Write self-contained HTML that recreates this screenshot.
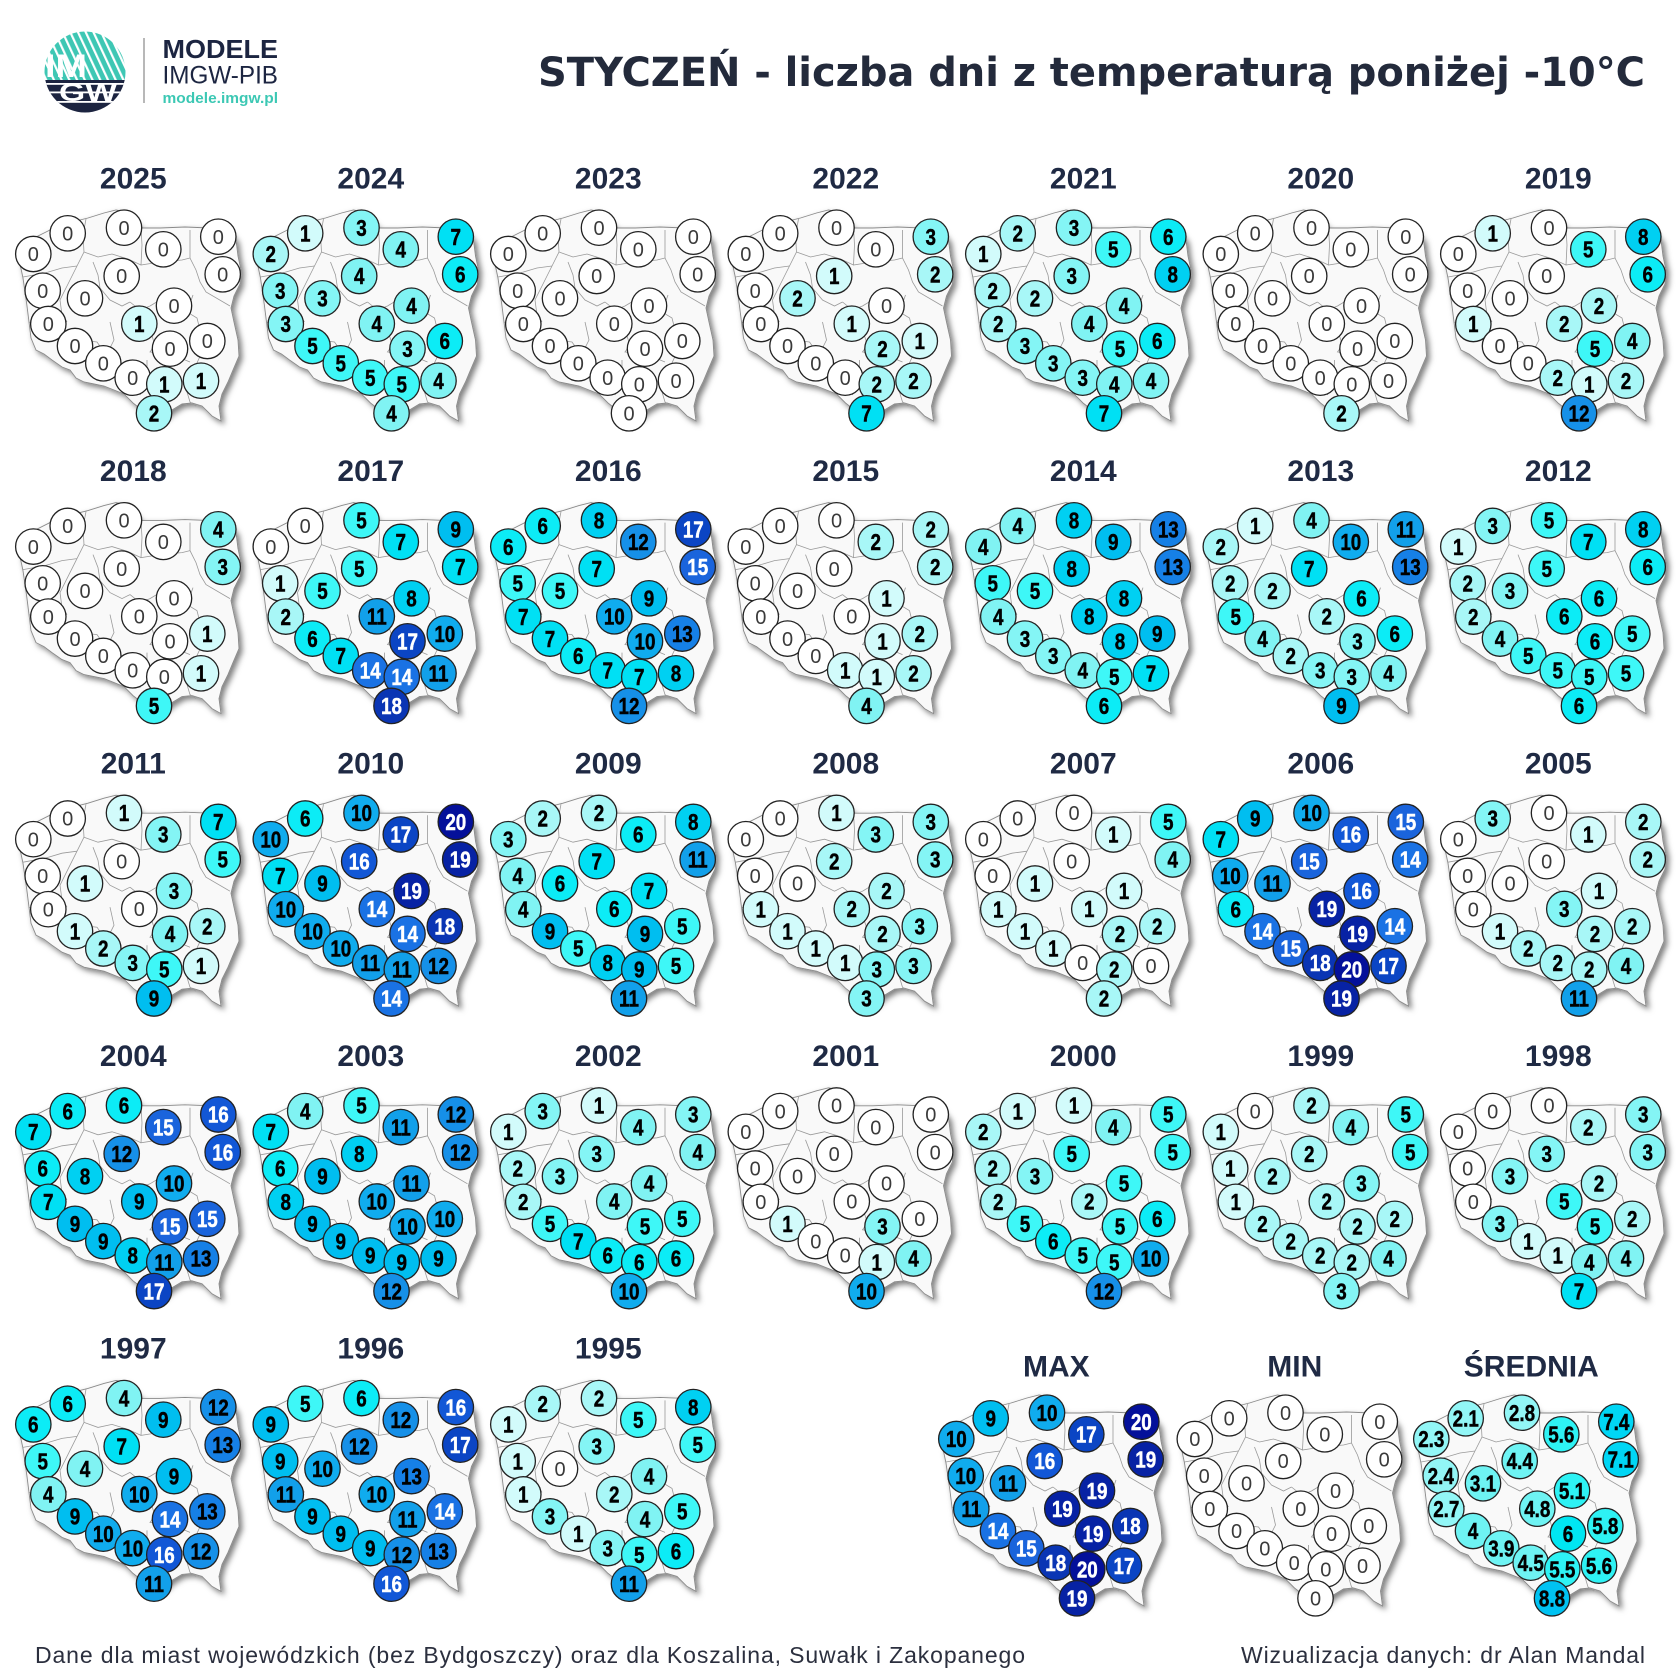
<!DOCTYPE html>
<html><head><meta charset="utf-8"><style>
html,body{margin:0;padding:0;background:#fff}
svg{display:block}
circle{fill:#fff;stroke:#222;stroke-width:1.3}
.mp g text{font-family:"Liberation Sans",Arial,sans-serif;font-weight:bold;font-size:23px;text-anchor:middle;transform:translate(0px,8.2px) scaleX(.82);fill:#000;stroke:#000;stroke-width:.45px}
.mp .v0 text{font-weight:normal;font-size:20px;fill:#3a3a3a;stroke:none;transform:translate(0px,7.2px)}
.mp .v14 text,.mp .v15 text,.mp .v16 text,.mp .v17 text,.mp .v18 text,.mp .v19 text,.mp .v20 text{fill:#fff;stroke:#fff}
.yr{font-family:"Liberation Sans",Arial,sans-serif;font-weight:bold;font-size:30px;text-anchor:middle;fill:#1f2a44}
.a{transform:translate(67.7px,233.3px)}.b{transform:translate(124px,227.7px)}.c{transform:translate(218.3px,236.7px)}.d{transform:translate(33.3px,254px)}.e{transform:translate(163.3px,249.3px)}.f{transform:translate(222.7px,274.3px)}.g{transform:translate(121.7px,276px)}.h{transform:translate(42.7px,290.7px)}.i{transform:translate(85px,298.3px)}.j{transform:translate(174px,305.7px)}.k{transform:translate(48.3px,324px)}.l{transform:translate(139.3px,323.7px)}.m{transform:translate(207.3px,341px)}.n{transform:translate(75px,346px)}.o{transform:translate(170px,348.7px)}.p{transform:translate(103.3px,363.3px)}.q{transform:translate(132.7px,377.7px)}.r{transform:translate(164.3px,384.3px)}.s{transform:translate(201px,380.7px)}.t{transform:translate(154px,413.3px)}
.v1 circle{fill:#d2fbfb}.v2 circle{fill:#a8f7f7}.v3 circle{fill:#84f5f5}.v4 circle{fill:#80f3f3}.v5 circle{fill:#3ef7f7}.v6 circle{fill:#0cecf6}.v7 circle{fill:#00e0f4}.v8 circle{fill:#00d0f2}.v9 circle{fill:#00bef0}.v10 circle{fill:#10acee}.v11 circle{fill:#12a0ea}.v12 circle{fill:#1690e8}.v13 circle{fill:#1680e6}.v14 circle{fill:#1a72e4}.v15 circle{fill:#1a64dc}.v16 circle{fill:#1257d6}.v17 circle{fill:#0b45c4}.v18 circle{fill:#0a35b4}.v19 circle{fill:#0722a4}.v20 circle{fill:#04109a}
.s2 circle{fill:#92f6f6}.s3 circle{fill:#6ef3f3}.s5 circle{fill:#2ef2f4}.s6 circle{fill:#00e6f2}.s7 circle{fill:#00d6f5}.s8 circle{fill:#00c2f2}
.pl{fill:#f9f9f9;stroke:#8a8a8a;stroke-width:.9}
.bd{fill:none;stroke:#9a9a9a;stroke-width:.8}
</style></head><body>
<svg width="1680" height="1680" viewBox="0 0 1680 1680" xmlns="http://www.w3.org/2000/svg">
<defs>
<filter id="sh" x="-10%" y="-10%" width="130%" height="130%"><feDropShadow dx="3" dy="3" stdDeviation="3" flood-color="#000" flood-opacity=".5"/></filter>
<g id="pl">
<polygon class="pl" filter="url(#sh)" points="20,248 34,238 52,229 72,222 88,218 104,213 116,210 126,212 133,219 141,228 160,228 185,227 210,228 228,230 236,240 238,256 241,270 240,284 234,296 231,308 234,322 238,340 239,356 233,370 228,382 222,394 219,406 221,421 212,416 202,406 192,403 182,404 172,410 162,419 150,421 142,410 133,403 124,394 114,390 104,386 94,384 84,382 76,378 70,370 62,367 52,360 44,354 36,350 31,338 29,322 27,306 25,292 23,278 20,264"/>
<polyline class="bd" points="86,219 83,235 84,252 77,266"/>
<polyline class="bd" points="23,277 45,273 62,268 77,266"/>
<polyline class="bd" points="84,252 98,257 112,254 128,259 141,265"/>
<polyline class="bd" points="141,228 142,245 141,265 160,262 182,260 190,258"/>
<polyline class="bd" points="190,230 190,258 196,270 200,282 206,292 230,306"/>
<polyline class="bd" points="93,262 98,275 100,288 110,300 122,306 130,302"/>
<polyline class="bd" points="77,266 70,280 60,300 62,315 67,322"/>
<polyline class="bd" points="29,322 45,328 58,334 64,340"/>
<polyline class="bd" points="64,336 80,340 97,342 104,352"/>
<polyline class="bd" points="130,302 140,310 150,306 160,300"/>
<polyline class="bd" points="110,322 114,340 108,352"/>
<polyline class="bd" points="150,330 155,345 150,352 173,355 190,362"/>
<polyline class="bd" points="193,295 187,312 197,318 200,330 203,350 196,365 190,380"/>
<polyline class="bd" points="94,355 110,362 118,372 116,385"/>
<polyline class="bd" points="147,360 147,375 140,395"/>
<polyline class="bd" points="184,382 190,402 196,406"/>
</g>
<clipPath id="lc"><circle cx="85" cy="72" r="40.5"/></clipPath>
<pattern id="st" width="7" height="7" patternUnits="userSpaceOnUse" patternTransform="rotate(-25)"><rect width="7" height="7" fill="#3ec7b4"/><rect width="2.2" height="7" fill="#fff"/></pattern>
</defs>

<!-- logo -->
<g clip-path="url(#lc)">
<rect x="44" y="31" width="82" height="50" fill="url(#st)"/>
<rect x="44" y="80" width="82" height="34" fill="#1c2440"/>
<rect x="44" y="83" width="82" height="1.8" fill="#fff"/>
<rect x="44" y="91.5" width="82" height="1.8" fill="#fff"/>
<rect x="44" y="101" width="82" height="1.8" fill="#fff"/>
</g>
<text x="45" y="77" font-family="Liberation Sans, Arial, sans-serif" font-weight="bold" font-size="32" fill="#fff" textLength="42" lengthAdjust="spacingAndGlyphs">IM</text>
<text x="59" y="101" font-family="Liberation Sans, Arial, sans-serif" font-weight="bold" font-size="25" fill="#fff" textLength="58" lengthAdjust="spacingAndGlyphs">GW</text>
<rect x="143.3" y="38" width="1.4" height="65" fill="#9a9a9a"/>
<text x="162.5" y="58" font-family="Liberation Sans, Arial, sans-serif" font-weight="bold" font-size="26" fill="#1c2541" textLength="115.5" lengthAdjust="spacingAndGlyphs">MODELE</text>
<text x="162.5" y="83.3" font-family="Liberation Sans, Arial, sans-serif" font-size="25" fill="#1c2541" textLength="115.5" lengthAdjust="spacingAndGlyphs">IMGW-PIB</text>
<text x="162.5" y="103" font-family="Liberation Sans, Arial, sans-serif" font-weight="bold" font-size="14.5" fill="#3cc8b4" textLength="115.5" lengthAdjust="spacingAndGlyphs">modele.imgw.pl</text>

<text x="538" y="86" font-family="DejaVu Sans, sans-serif" font-weight="bold" font-size="40" fill="#232a3b" textLength="1107">STYCZEŃ - liczba dni z temperaturą poniżej -10°C</text>

<!-- 2025 -->
<g class="mp" transform="translate(0 0)"><use href="#pl"/><text class="yr" x="133.3" y="188.3">2025</text>
<g class="a v0"><circle r="17.7"/><text>0</text></g><g class="b v0"><circle r="17.7"/><text>0</text></g><g class="c v0"><circle r="17.7"/><text>0</text></g><g class="d v0"><circle r="17.7"/><text>0</text></g><g class="e v0"><circle r="17.7"/><text>0</text></g><g class="f v0"><circle r="17.7"/><text>0</text></g><g class="g v0"><circle r="17.7"/><text>0</text></g><g class="h v0"><circle r="17.7"/><text>0</text></g><g class="i v0"><circle r="17.7"/><text>0</text></g><g class="j v0"><circle r="17.7"/><text>0</text></g><g class="k v0"><circle r="17.7"/><text>0</text></g><g class="l v1"><circle r="17.7"/><text>1</text></g><g class="m v0"><circle r="17.7"/><text>0</text></g><g class="n v0"><circle r="17.7"/><text>0</text></g><g class="o v0"><circle r="17.7"/><text>0</text></g><g class="p v0"><circle r="17.7"/><text>0</text></g><g class="q v0"><circle r="17.7"/><text>0</text></g><g class="r v1"><circle r="17.7"/><text>1</text></g><g class="s v1"><circle r="17.7"/><text>1</text></g><g class="t v2"><circle r="17.7"/><text>2</text></g>
</g>
<!-- 2024 -->
<g class="mp" transform="translate(237.5 0)"><use href="#pl"/><text class="yr" x="133.3" y="188.3">2024</text>
<g class="a v1"><circle r="17.7"/><text>1</text></g><g class="b v3"><circle r="17.7"/><text>3</text></g><g class="c v7"><circle r="17.7"/><text>7</text></g><g class="d v2"><circle r="17.7"/><text>2</text></g><g class="e v4"><circle r="17.7"/><text>4</text></g><g class="f v6"><circle r="17.7"/><text>6</text></g><g class="g v4"><circle r="17.7"/><text>4</text></g><g class="h v3"><circle r="17.7"/><text>3</text></g><g class="i v3"><circle r="17.7"/><text>3</text></g><g class="j v4"><circle r="17.7"/><text>4</text></g><g class="k v3"><circle r="17.7"/><text>3</text></g><g class="l v4"><circle r="17.7"/><text>4</text></g><g class="m v6"><circle r="17.7"/><text>6</text></g><g class="n v5"><circle r="17.7"/><text>5</text></g><g class="o v3"><circle r="17.7"/><text>3</text></g><g class="p v5"><circle r="17.7"/><text>5</text></g><g class="q v5"><circle r="17.7"/><text>5</text></g><g class="r v5"><circle r="17.7"/><text>5</text></g><g class="s v4"><circle r="17.7"/><text>4</text></g><g class="t v4"><circle r="17.7"/><text>4</text></g>
</g>
<!-- 2023 -->
<g class="mp" transform="translate(475 0)"><use href="#pl"/><text class="yr" x="133.3" y="188.3">2023</text>
<g class="a v0"><circle r="17.7"/><text>0</text></g><g class="b v0"><circle r="17.7"/><text>0</text></g><g class="c v0"><circle r="17.7"/><text>0</text></g><g class="d v0"><circle r="17.7"/><text>0</text></g><g class="e v0"><circle r="17.7"/><text>0</text></g><g class="f v0"><circle r="17.7"/><text>0</text></g><g class="g v0"><circle r="17.7"/><text>0</text></g><g class="h v0"><circle r="17.7"/><text>0</text></g><g class="i v0"><circle r="17.7"/><text>0</text></g><g class="j v0"><circle r="17.7"/><text>0</text></g><g class="k v0"><circle r="17.7"/><text>0</text></g><g class="l v0"><circle r="17.7"/><text>0</text></g><g class="m v0"><circle r="17.7"/><text>0</text></g><g class="n v0"><circle r="17.7"/><text>0</text></g><g class="o v0"><circle r="17.7"/><text>0</text></g><g class="p v0"><circle r="17.7"/><text>0</text></g><g class="q v0"><circle r="17.7"/><text>0</text></g><g class="r v0"><circle r="17.7"/><text>0</text></g><g class="s v0"><circle r="17.7"/><text>0</text></g><g class="t v0"><circle r="17.7"/><text>0</text></g>
</g>
<!-- 2022 -->
<g class="mp" transform="translate(712.5 0)"><use href="#pl"/><text class="yr" x="133.3" y="188.3">2022</text>
<g class="a v0"><circle r="17.7"/><text>0</text></g><g class="b v0"><circle r="17.7"/><text>0</text></g><g class="c v3"><circle r="17.7"/><text>3</text></g><g class="d v0"><circle r="17.7"/><text>0</text></g><g class="e v0"><circle r="17.7"/><text>0</text></g><g class="f v2"><circle r="17.7"/><text>2</text></g><g class="g v1"><circle r="17.7"/><text>1</text></g><g class="h v0"><circle r="17.7"/><text>0</text></g><g class="i v2"><circle r="17.7"/><text>2</text></g><g class="j v0"><circle r="17.7"/><text>0</text></g><g class="k v0"><circle r="17.7"/><text>0</text></g><g class="l v1"><circle r="17.7"/><text>1</text></g><g class="m v1"><circle r="17.7"/><text>1</text></g><g class="n v0"><circle r="17.7"/><text>0</text></g><g class="o v2"><circle r="17.7"/><text>2</text></g><g class="p v0"><circle r="17.7"/><text>0</text></g><g class="q v0"><circle r="17.7"/><text>0</text></g><g class="r v2"><circle r="17.7"/><text>2</text></g><g class="s v2"><circle r="17.7"/><text>2</text></g><g class="t v7"><circle r="17.7"/><text>7</text></g>
</g>
<!-- 2021 -->
<g class="mp" transform="translate(950 0)"><use href="#pl"/><text class="yr" x="133.3" y="188.3">2021</text>
<g class="a v2"><circle r="17.7"/><text>2</text></g><g class="b v3"><circle r="17.7"/><text>3</text></g><g class="c v6"><circle r="17.7"/><text>6</text></g><g class="d v1"><circle r="17.7"/><text>1</text></g><g class="e v5"><circle r="17.7"/><text>5</text></g><g class="f v8"><circle r="17.7"/><text>8</text></g><g class="g v3"><circle r="17.7"/><text>3</text></g><g class="h v2"><circle r="17.7"/><text>2</text></g><g class="i v2"><circle r="17.7"/><text>2</text></g><g class="j v4"><circle r="17.7"/><text>4</text></g><g class="k v2"><circle r="17.7"/><text>2</text></g><g class="l v4"><circle r="17.7"/><text>4</text></g><g class="m v6"><circle r="17.7"/><text>6</text></g><g class="n v3"><circle r="17.7"/><text>3</text></g><g class="o v5"><circle r="17.7"/><text>5</text></g><g class="p v3"><circle r="17.7"/><text>3</text></g><g class="q v3"><circle r="17.7"/><text>3</text></g><g class="r v4"><circle r="17.7"/><text>4</text></g><g class="s v4"><circle r="17.7"/><text>4</text></g><g class="t v7"><circle r="17.7"/><text>7</text></g>
</g>
<!-- 2020 -->
<g class="mp" transform="translate(1187.5 0)"><use href="#pl"/><text class="yr" x="133.3" y="188.3">2020</text>
<g class="a v0"><circle r="17.7"/><text>0</text></g><g class="b v0"><circle r="17.7"/><text>0</text></g><g class="c v0"><circle r="17.7"/><text>0</text></g><g class="d v0"><circle r="17.7"/><text>0</text></g><g class="e v0"><circle r="17.7"/><text>0</text></g><g class="f v0"><circle r="17.7"/><text>0</text></g><g class="g v0"><circle r="17.7"/><text>0</text></g><g class="h v0"><circle r="17.7"/><text>0</text></g><g class="i v0"><circle r="17.7"/><text>0</text></g><g class="j v0"><circle r="17.7"/><text>0</text></g><g class="k v0"><circle r="17.7"/><text>0</text></g><g class="l v0"><circle r="17.7"/><text>0</text></g><g class="m v0"><circle r="17.7"/><text>0</text></g><g class="n v0"><circle r="17.7"/><text>0</text></g><g class="o v0"><circle r="17.7"/><text>0</text></g><g class="p v0"><circle r="17.7"/><text>0</text></g><g class="q v0"><circle r="17.7"/><text>0</text></g><g class="r v0"><circle r="17.7"/><text>0</text></g><g class="s v0"><circle r="17.7"/><text>0</text></g><g class="t v2"><circle r="17.7"/><text>2</text></g>
</g>
<!-- 2019 -->
<g class="mp" transform="translate(1425 0)"><use href="#pl"/><text class="yr" x="133.3" y="188.3">2019</text>
<g class="a v1"><circle r="17.7"/><text>1</text></g><g class="b v0"><circle r="17.7"/><text>0</text></g><g class="c v8"><circle r="17.7"/><text>8</text></g><g class="d v0"><circle r="17.7"/><text>0</text></g><g class="e v5"><circle r="17.7"/><text>5</text></g><g class="f v6"><circle r="17.7"/><text>6</text></g><g class="g v0"><circle r="17.7"/><text>0</text></g><g class="h v0"><circle r="17.7"/><text>0</text></g><g class="i v0"><circle r="17.7"/><text>0</text></g><g class="j v2"><circle r="17.7"/><text>2</text></g><g class="k v1"><circle r="17.7"/><text>1</text></g><g class="l v2"><circle r="17.7"/><text>2</text></g><g class="m v4"><circle r="17.7"/><text>4</text></g><g class="n v0"><circle r="17.7"/><text>0</text></g><g class="o v5"><circle r="17.7"/><text>5</text></g><g class="p v0"><circle r="17.7"/><text>0</text></g><g class="q v2"><circle r="17.7"/><text>2</text></g><g class="r v1"><circle r="17.7"/><text>1</text></g><g class="s v2"><circle r="17.7"/><text>2</text></g><g class="t v12"><circle r="17.7"/><text>12</text></g>
</g>

<!-- 2018 -->
<g class="mp" transform="translate(0 292.6)"><use href="#pl"/><text class="yr" x="133.3" y="188.3">2018</text>
<g class="a v0"><circle r="17.7"/><text>0</text></g><g class="b v0"><circle r="17.7"/><text>0</text></g><g class="c v4"><circle r="17.7"/><text>4</text></g><g class="d v0"><circle r="17.7"/><text>0</text></g><g class="e v0"><circle r="17.7"/><text>0</text></g><g class="f v3"><circle r="17.7"/><text>3</text></g><g class="g v0"><circle r="17.7"/><text>0</text></g><g class="h v0"><circle r="17.7"/><text>0</text></g><g class="i v0"><circle r="17.7"/><text>0</text></g><g class="j v0"><circle r="17.7"/><text>0</text></g><g class="k v0"><circle r="17.7"/><text>0</text></g><g class="l v0"><circle r="17.7"/><text>0</text></g><g class="m v1"><circle r="17.7"/><text>1</text></g><g class="n v0"><circle r="17.7"/><text>0</text></g><g class="o v0"><circle r="17.7"/><text>0</text></g><g class="p v0"><circle r="17.7"/><text>0</text></g><g class="q v0"><circle r="17.7"/><text>0</text></g><g class="r v0"><circle r="17.7"/><text>0</text></g><g class="s v1"><circle r="17.7"/><text>1</text></g><g class="t v5"><circle r="17.7"/><text>5</text></g>
</g>
<!-- 2017 -->
<g class="mp" transform="translate(237.5 292.6)"><use href="#pl"/><text class="yr" x="133.3" y="188.3">2017</text>
<g class="a v0"><circle r="17.7"/><text>0</text></g><g class="b v5"><circle r="17.7"/><text>5</text></g><g class="c v9"><circle r="17.7"/><text>9</text></g><g class="d v0"><circle r="17.7"/><text>0</text></g><g class="e v7"><circle r="17.7"/><text>7</text></g><g class="f v7"><circle r="17.7"/><text>7</text></g><g class="g v5"><circle r="17.7"/><text>5</text></g><g class="h v1"><circle r="17.7"/><text>1</text></g><g class="i v5"><circle r="17.7"/><text>5</text></g><g class="j v8"><circle r="17.7"/><text>8</text></g><g class="k v2"><circle r="17.7"/><text>2</text></g><g class="l v11"><circle r="17.7"/><text>11</text></g><g class="m v10"><circle r="17.7"/><text>10</text></g><g class="n v6"><circle r="17.7"/><text>6</text></g><g class="o v17"><circle r="17.7"/><text>17</text></g><g class="p v7"><circle r="17.7"/><text>7</text></g><g class="q v14"><circle r="17.7"/><text>14</text></g><g class="r v14"><circle r="17.7"/><text>14</text></g><g class="s v11"><circle r="17.7"/><text>11</text></g><g class="t v18"><circle r="17.7"/><text>18</text></g>
</g>
<!-- 2016 -->
<g class="mp" transform="translate(475 292.6)"><use href="#pl"/><text class="yr" x="133.3" y="188.3">2016</text>
<g class="a v6"><circle r="17.7"/><text>6</text></g><g class="b v8"><circle r="17.7"/><text>8</text></g><g class="c v17"><circle r="17.7"/><text>17</text></g><g class="d v6"><circle r="17.7"/><text>6</text></g><g class="e v12"><circle r="17.7"/><text>12</text></g><g class="f v15"><circle r="17.7"/><text>15</text></g><g class="g v7"><circle r="17.7"/><text>7</text></g><g class="h v5"><circle r="17.7"/><text>5</text></g><g class="i v5"><circle r="17.7"/><text>5</text></g><g class="j v9"><circle r="17.7"/><text>9</text></g><g class="k v7"><circle r="17.7"/><text>7</text></g><g class="l v10"><circle r="17.7"/><text>10</text></g><g class="m v13"><circle r="17.7"/><text>13</text></g><g class="n v7"><circle r="17.7"/><text>7</text></g><g class="o v10"><circle r="17.7"/><text>10</text></g><g class="p v6"><circle r="17.7"/><text>6</text></g><g class="q v7"><circle r="17.7"/><text>7</text></g><g class="r v7"><circle r="17.7"/><text>7</text></g><g class="s v8"><circle r="17.7"/><text>8</text></g><g class="t v12"><circle r="17.7"/><text>12</text></g>
</g>
<!-- 2015 -->
<g class="mp" transform="translate(712.5 292.6)"><use href="#pl"/><text class="yr" x="133.3" y="188.3">2015</text>
<g class="a v0"><circle r="17.7"/><text>0</text></g><g class="b v0"><circle r="17.7"/><text>0</text></g><g class="c v2"><circle r="17.7"/><text>2</text></g><g class="d v0"><circle r="17.7"/><text>0</text></g><g class="e v2"><circle r="17.7"/><text>2</text></g><g class="f v2"><circle r="17.7"/><text>2</text></g><g class="g v0"><circle r="17.7"/><text>0</text></g><g class="h v0"><circle r="17.7"/><text>0</text></g><g class="i v0"><circle r="17.7"/><text>0</text></g><g class="j v1"><circle r="17.7"/><text>1</text></g><g class="k v0"><circle r="17.7"/><text>0</text></g><g class="l v0"><circle r="17.7"/><text>0</text></g><g class="m v2"><circle r="17.7"/><text>2</text></g><g class="n v0"><circle r="17.7"/><text>0</text></g><g class="o v1"><circle r="17.7"/><text>1</text></g><g class="p v0"><circle r="17.7"/><text>0</text></g><g class="q v1"><circle r="17.7"/><text>1</text></g><g class="r v1"><circle r="17.7"/><text>1</text></g><g class="s v2"><circle r="17.7"/><text>2</text></g><g class="t v4"><circle r="17.7"/><text>4</text></g>
</g>
<!-- 2014 -->
<g class="mp" transform="translate(950 292.6)"><use href="#pl"/><text class="yr" x="133.3" y="188.3">2014</text>
<g class="a v4"><circle r="17.7"/><text>4</text></g><g class="b v8"><circle r="17.7"/><text>8</text></g><g class="c v13"><circle r="17.7"/><text>13</text></g><g class="d v4"><circle r="17.7"/><text>4</text></g><g class="e v9"><circle r="17.7"/><text>9</text></g><g class="f v13"><circle r="17.7"/><text>13</text></g><g class="g v8"><circle r="17.7"/><text>8</text></g><g class="h v5"><circle r="17.7"/><text>5</text></g><g class="i v5"><circle r="17.7"/><text>5</text></g><g class="j v8"><circle r="17.7"/><text>8</text></g><g class="k v4"><circle r="17.7"/><text>4</text></g><g class="l v8"><circle r="17.7"/><text>8</text></g><g class="m v9"><circle r="17.7"/><text>9</text></g><g class="n v3"><circle r="17.7"/><text>3</text></g><g class="o v8"><circle r="17.7"/><text>8</text></g><g class="p v3"><circle r="17.7"/><text>3</text></g><g class="q v4"><circle r="17.7"/><text>4</text></g><g class="r v5"><circle r="17.7"/><text>5</text></g><g class="s v7"><circle r="17.7"/><text>7</text></g><g class="t v6"><circle r="17.7"/><text>6</text></g>
</g>
<!-- 2013 -->
<g class="mp" transform="translate(1187.5 292.6)"><use href="#pl"/><text class="yr" x="133.3" y="188.3">2013</text>
<g class="a v1"><circle r="17.7"/><text>1</text></g><g class="b v4"><circle r="17.7"/><text>4</text></g><g class="c v11"><circle r="17.7"/><text>11</text></g><g class="d v2"><circle r="17.7"/><text>2</text></g><g class="e v10"><circle r="17.7"/><text>10</text></g><g class="f v13"><circle r="17.7"/><text>13</text></g><g class="g v7"><circle r="17.7"/><text>7</text></g><g class="h v2"><circle r="17.7"/><text>2</text></g><g class="i v2"><circle r="17.7"/><text>2</text></g><g class="j v6"><circle r="17.7"/><text>6</text></g><g class="k v5"><circle r="17.7"/><text>5</text></g><g class="l v2"><circle r="17.7"/><text>2</text></g><g class="m v6"><circle r="17.7"/><text>6</text></g><g class="n v4"><circle r="17.7"/><text>4</text></g><g class="o v3"><circle r="17.7"/><text>3</text></g><g class="p v2"><circle r="17.7"/><text>2</text></g><g class="q v3"><circle r="17.7"/><text>3</text></g><g class="r v3"><circle r="17.7"/><text>3</text></g><g class="s v4"><circle r="17.7"/><text>4</text></g><g class="t v9"><circle r="17.7"/><text>9</text></g>
</g>
<!-- 2012 -->
<g class="mp" transform="translate(1425 292.6)"><use href="#pl"/><text class="yr" x="133.3" y="188.3">2012</text>
<g class="a v3"><circle r="17.7"/><text>3</text></g><g class="b v5"><circle r="17.7"/><text>5</text></g><g class="c v8"><circle r="17.7"/><text>8</text></g><g class="d v1"><circle r="17.7"/><text>1</text></g><g class="e v7"><circle r="17.7"/><text>7</text></g><g class="f v6"><circle r="17.7"/><text>6</text></g><g class="g v5"><circle r="17.7"/><text>5</text></g><g class="h v2"><circle r="17.7"/><text>2</text></g><g class="i v3"><circle r="17.7"/><text>3</text></g><g class="j v6"><circle r="17.7"/><text>6</text></g><g class="k v2"><circle r="17.7"/><text>2</text></g><g class="l v6"><circle r="17.7"/><text>6</text></g><g class="m v5"><circle r="17.7"/><text>5</text></g><g class="n v4"><circle r="17.7"/><text>4</text></g><g class="o v6"><circle r="17.7"/><text>6</text></g><g class="p v5"><circle r="17.7"/><text>5</text></g><g class="q v5"><circle r="17.7"/><text>5</text></g><g class="r v5"><circle r="17.7"/><text>5</text></g><g class="s v5"><circle r="17.7"/><text>5</text></g><g class="t v6"><circle r="17.7"/><text>6</text></g>
</g>

<!-- 2011 -->
<g class="mp" transform="translate(0 585.2)"><use href="#pl"/><text class="yr" x="133.3" y="188.3">2011</text>
<g class="a v0"><circle r="17.7"/><text>0</text></g><g class="b v1"><circle r="17.7"/><text>1</text></g><g class="c v7"><circle r="17.7"/><text>7</text></g><g class="d v0"><circle r="17.7"/><text>0</text></g><g class="e v3"><circle r="17.7"/><text>3</text></g><g class="f v5"><circle r="17.7"/><text>5</text></g><g class="g v0"><circle r="17.7"/><text>0</text></g><g class="h v0"><circle r="17.7"/><text>0</text></g><g class="i v1"><circle r="17.7"/><text>1</text></g><g class="j v3"><circle r="17.7"/><text>3</text></g><g class="k v0"><circle r="17.7"/><text>0</text></g><g class="l v0"><circle r="17.7"/><text>0</text></g><g class="m v2"><circle r="17.7"/><text>2</text></g><g class="n v1"><circle r="17.7"/><text>1</text></g><g class="o v4"><circle r="17.7"/><text>4</text></g><g class="p v2"><circle r="17.7"/><text>2</text></g><g class="q v3"><circle r="17.7"/><text>3</text></g><g class="r v5"><circle r="17.7"/><text>5</text></g><g class="s v1"><circle r="17.7"/><text>1</text></g><g class="t v9"><circle r="17.7"/><text>9</text></g>
</g>
<!-- 2010 -->
<g class="mp" transform="translate(237.5 585.2)"><use href="#pl"/><text class="yr" x="133.3" y="188.3">2010</text>
<g class="a v6"><circle r="17.7"/><text>6</text></g><g class="b v10"><circle r="17.7"/><text>10</text></g><g class="c v20"><circle r="17.7"/><text>20</text></g><g class="d v10"><circle r="17.7"/><text>10</text></g><g class="e v17"><circle r="17.7"/><text>17</text></g><g class="f v19"><circle r="17.7"/><text>19</text></g><g class="g v16"><circle r="17.7"/><text>16</text></g><g class="h v7"><circle r="17.7"/><text>7</text></g><g class="i v9"><circle r="17.7"/><text>9</text></g><g class="j v19"><circle r="17.7"/><text>19</text></g><g class="k v10"><circle r="17.7"/><text>10</text></g><g class="l v14"><circle r="17.7"/><text>14</text></g><g class="m v18"><circle r="17.7"/><text>18</text></g><g class="n v10"><circle r="17.7"/><text>10</text></g><g class="o v14"><circle r="17.7"/><text>14</text></g><g class="p v10"><circle r="17.7"/><text>10</text></g><g class="q v11"><circle r="17.7"/><text>11</text></g><g class="r v11"><circle r="17.7"/><text>11</text></g><g class="s v12"><circle r="17.7"/><text>12</text></g><g class="t v14"><circle r="17.7"/><text>14</text></g>
</g>
<!-- 2009 -->
<g class="mp" transform="translate(475 585.2)"><use href="#pl"/><text class="yr" x="133.3" y="188.3">2009</text>
<g class="a v2"><circle r="17.7"/><text>2</text></g><g class="b v2"><circle r="17.7"/><text>2</text></g><g class="c v8"><circle r="17.7"/><text>8</text></g><g class="d v3"><circle r="17.7"/><text>3</text></g><g class="e v6"><circle r="17.7"/><text>6</text></g><g class="f v11"><circle r="17.7"/><text>11</text></g><g class="g v7"><circle r="17.7"/><text>7</text></g><g class="h v4"><circle r="17.7"/><text>4</text></g><g class="i v6"><circle r="17.7"/><text>6</text></g><g class="j v7"><circle r="17.7"/><text>7</text></g><g class="k v4"><circle r="17.7"/><text>4</text></g><g class="l v6"><circle r="17.7"/><text>6</text></g><g class="m v5"><circle r="17.7"/><text>5</text></g><g class="n v9"><circle r="17.7"/><text>9</text></g><g class="o v9"><circle r="17.7"/><text>9</text></g><g class="p v5"><circle r="17.7"/><text>5</text></g><g class="q v8"><circle r="17.7"/><text>8</text></g><g class="r v9"><circle r="17.7"/><text>9</text></g><g class="s v5"><circle r="17.7"/><text>5</text></g><g class="t v11"><circle r="17.7"/><text>11</text></g>
</g>
<!-- 2008 -->
<g class="mp" transform="translate(712.5 585.2)"><use href="#pl"/><text class="yr" x="133.3" y="188.3">2008</text>
<g class="a v0"><circle r="17.7"/><text>0</text></g><g class="b v1"><circle r="17.7"/><text>1</text></g><g class="c v3"><circle r="17.7"/><text>3</text></g><g class="d v0"><circle r="17.7"/><text>0</text></g><g class="e v3"><circle r="17.7"/><text>3</text></g><g class="f v3"><circle r="17.7"/><text>3</text></g><g class="g v2"><circle r="17.7"/><text>2</text></g><g class="h v0"><circle r="17.7"/><text>0</text></g><g class="i v0"><circle r="17.7"/><text>0</text></g><g class="j v2"><circle r="17.7"/><text>2</text></g><g class="k v1"><circle r="17.7"/><text>1</text></g><g class="l v2"><circle r="17.7"/><text>2</text></g><g class="m v3"><circle r="17.7"/><text>3</text></g><g class="n v1"><circle r="17.7"/><text>1</text></g><g class="o v2"><circle r="17.7"/><text>2</text></g><g class="p v1"><circle r="17.7"/><text>1</text></g><g class="q v1"><circle r="17.7"/><text>1</text></g><g class="r v3"><circle r="17.7"/><text>3</text></g><g class="s v3"><circle r="17.7"/><text>3</text></g><g class="t v3"><circle r="17.7"/><text>3</text></g>
</g>
<!-- 2007 -->
<g class="mp" transform="translate(950 585.2)"><use href="#pl"/><text class="yr" x="133.3" y="188.3">2007</text>
<g class="a v0"><circle r="17.7"/><text>0</text></g><g class="b v0"><circle r="17.7"/><text>0</text></g><g class="c v5"><circle r="17.7"/><text>5</text></g><g class="d v0"><circle r="17.7"/><text>0</text></g><g class="e v1"><circle r="17.7"/><text>1</text></g><g class="f v4"><circle r="17.7"/><text>4</text></g><g class="g v0"><circle r="17.7"/><text>0</text></g><g class="h v0"><circle r="17.7"/><text>0</text></g><g class="i v1"><circle r="17.7"/><text>1</text></g><g class="j v1"><circle r="17.7"/><text>1</text></g><g class="k v1"><circle r="17.7"/><text>1</text></g><g class="l v1"><circle r="17.7"/><text>1</text></g><g class="m v2"><circle r="17.7"/><text>2</text></g><g class="n v1"><circle r="17.7"/><text>1</text></g><g class="o v2"><circle r="17.7"/><text>2</text></g><g class="p v1"><circle r="17.7"/><text>1</text></g><g class="q v0"><circle r="17.7"/><text>0</text></g><g class="r v2"><circle r="17.7"/><text>2</text></g><g class="s v0"><circle r="17.7"/><text>0</text></g><g class="t v2"><circle r="17.7"/><text>2</text></g>
</g>
<!-- 2006 -->
<g class="mp" transform="translate(1187.5 585.2)"><use href="#pl"/><text class="yr" x="133.3" y="188.3">2006</text>
<g class="a v9"><circle r="17.7"/><text>9</text></g><g class="b v10"><circle r="17.7"/><text>10</text></g><g class="c v15"><circle r="17.7"/><text>15</text></g><g class="d v7"><circle r="17.7"/><text>7</text></g><g class="e v16"><circle r="17.7"/><text>16</text></g><g class="f v14"><circle r="17.7"/><text>14</text></g><g class="g v15"><circle r="17.7"/><text>15</text></g><g class="h v10"><circle r="17.7"/><text>10</text></g><g class="i v11"><circle r="17.7"/><text>11</text></g><g class="j v16"><circle r="17.7"/><text>16</text></g><g class="k v6"><circle r="17.7"/><text>6</text></g><g class="l v19"><circle r="17.7"/><text>19</text></g><g class="m v14"><circle r="17.7"/><text>14</text></g><g class="n v14"><circle r="17.7"/><text>14</text></g><g class="o v19"><circle r="17.7"/><text>19</text></g><g class="p v15"><circle r="17.7"/><text>15</text></g><g class="q v18"><circle r="17.7"/><text>18</text></g><g class="r v20"><circle r="17.7"/><text>20</text></g><g class="s v17"><circle r="17.7"/><text>17</text></g><g class="t v19"><circle r="17.7"/><text>19</text></g>
</g>
<!-- 2005 -->
<g class="mp" transform="translate(1425 585.2)"><use href="#pl"/><text class="yr" x="133.3" y="188.3">2005</text>
<g class="a v3"><circle r="17.7"/><text>3</text></g><g class="b v0"><circle r="17.7"/><text>0</text></g><g class="c v2"><circle r="17.7"/><text>2</text></g><g class="d v0"><circle r="17.7"/><text>0</text></g><g class="e v1"><circle r="17.7"/><text>1</text></g><g class="f v2"><circle r="17.7"/><text>2</text></g><g class="g v0"><circle r="17.7"/><text>0</text></g><g class="h v0"><circle r="17.7"/><text>0</text></g><g class="i v0"><circle r="17.7"/><text>0</text></g><g class="j v1"><circle r="17.7"/><text>1</text></g><g class="k v0"><circle r="17.7"/><text>0</text></g><g class="l v3"><circle r="17.7"/><text>3</text></g><g class="m v2"><circle r="17.7"/><text>2</text></g><g class="n v1"><circle r="17.7"/><text>1</text></g><g class="o v2"><circle r="17.7"/><text>2</text></g><g class="p v2"><circle r="17.7"/><text>2</text></g><g class="q v2"><circle r="17.7"/><text>2</text></g><g class="r v2"><circle r="17.7"/><text>2</text></g><g class="s v4"><circle r="17.7"/><text>4</text></g><g class="t v11"><circle r="17.7"/><text>11</text></g>
</g>

<!-- 2004 -->
<g class="mp" transform="translate(0 877.8)"><use href="#pl"/><text class="yr" x="133.3" y="188.3">2004</text>
<g class="a v6"><circle r="17.7"/><text>6</text></g><g class="b v6"><circle r="17.7"/><text>6</text></g><g class="c v16"><circle r="17.7"/><text>16</text></g><g class="d v7"><circle r="17.7"/><text>7</text></g><g class="e v15"><circle r="17.7"/><text>15</text></g><g class="f v16"><circle r="17.7"/><text>16</text></g><g class="g v12"><circle r="17.7"/><text>12</text></g><g class="h v6"><circle r="17.7"/><text>6</text></g><g class="i v8"><circle r="17.7"/><text>8</text></g><g class="j v10"><circle r="17.7"/><text>10</text></g><g class="k v7"><circle r="17.7"/><text>7</text></g><g class="l v9"><circle r="17.7"/><text>9</text></g><g class="m v15"><circle r="17.7"/><text>15</text></g><g class="n v9"><circle r="17.7"/><text>9</text></g><g class="o v15"><circle r="17.7"/><text>15</text></g><g class="p v9"><circle r="17.7"/><text>9</text></g><g class="q v8"><circle r="17.7"/><text>8</text></g><g class="r v11"><circle r="17.7"/><text>11</text></g><g class="s v13"><circle r="17.7"/><text>13</text></g><g class="t v17"><circle r="17.7"/><text>17</text></g>
</g>
<!-- 2003 -->
<g class="mp" transform="translate(237.5 877.8)"><use href="#pl"/><text class="yr" x="133.3" y="188.3">2003</text>
<g class="a v4"><circle r="17.7"/><text>4</text></g><g class="b v5"><circle r="17.7"/><text>5</text></g><g class="c v12"><circle r="17.7"/><text>12</text></g><g class="d v7"><circle r="17.7"/><text>7</text></g><g class="e v11"><circle r="17.7"/><text>11</text></g><g class="f v12"><circle r="17.7"/><text>12</text></g><g class="g v8"><circle r="17.7"/><text>8</text></g><g class="h v6"><circle r="17.7"/><text>6</text></g><g class="i v9"><circle r="17.7"/><text>9</text></g><g class="j v11"><circle r="17.7"/><text>11</text></g><g class="k v8"><circle r="17.7"/><text>8</text></g><g class="l v10"><circle r="17.7"/><text>10</text></g><g class="m v10"><circle r="17.7"/><text>10</text></g><g class="n v9"><circle r="17.7"/><text>9</text></g><g class="o v10"><circle r="17.7"/><text>10</text></g><g class="p v9"><circle r="17.7"/><text>9</text></g><g class="q v9"><circle r="17.7"/><text>9</text></g><g class="r v9"><circle r="17.7"/><text>9</text></g><g class="s v9"><circle r="17.7"/><text>9</text></g><g class="t v12"><circle r="17.7"/><text>12</text></g>
</g>
<!-- 2002 -->
<g class="mp" transform="translate(475 877.8)"><use href="#pl"/><text class="yr" x="133.3" y="188.3">2002</text>
<g class="a v3"><circle r="17.7"/><text>3</text></g><g class="b v1"><circle r="17.7"/><text>1</text></g><g class="c v3"><circle r="17.7"/><text>3</text></g><g class="d v1"><circle r="17.7"/><text>1</text></g><g class="e v4"><circle r="17.7"/><text>4</text></g><g class="f v4"><circle r="17.7"/><text>4</text></g><g class="g v3"><circle r="17.7"/><text>3</text></g><g class="h v2"><circle r="17.7"/><text>2</text></g><g class="i v3"><circle r="17.7"/><text>3</text></g><g class="j v4"><circle r="17.7"/><text>4</text></g><g class="k v2"><circle r="17.7"/><text>2</text></g><g class="l v4"><circle r="17.7"/><text>4</text></g><g class="m v5"><circle r="17.7"/><text>5</text></g><g class="n v5"><circle r="17.7"/><text>5</text></g><g class="o v5"><circle r="17.7"/><text>5</text></g><g class="p v7"><circle r="17.7"/><text>7</text></g><g class="q v6"><circle r="17.7"/><text>6</text></g><g class="r v6"><circle r="17.7"/><text>6</text></g><g class="s v6"><circle r="17.7"/><text>6</text></g><g class="t v10"><circle r="17.7"/><text>10</text></g>
</g>
<!-- 2001 -->
<g class="mp" transform="translate(712.5 877.8)"><use href="#pl"/><text class="yr" x="133.3" y="188.3">2001</text>
<g class="a v0"><circle r="17.7"/><text>0</text></g><g class="b v0"><circle r="17.7"/><text>0</text></g><g class="c v0"><circle r="17.7"/><text>0</text></g><g class="d v0"><circle r="17.7"/><text>0</text></g><g class="e v0"><circle r="17.7"/><text>0</text></g><g class="f v0"><circle r="17.7"/><text>0</text></g><g class="g v0"><circle r="17.7"/><text>0</text></g><g class="h v0"><circle r="17.7"/><text>0</text></g><g class="i v0"><circle r="17.7"/><text>0</text></g><g class="j v0"><circle r="17.7"/><text>0</text></g><g class="k v0"><circle r="17.7"/><text>0</text></g><g class="l v0"><circle r="17.7"/><text>0</text></g><g class="m v0"><circle r="17.7"/><text>0</text></g><g class="n v1"><circle r="17.7"/><text>1</text></g><g class="o v3"><circle r="17.7"/><text>3</text></g><g class="p v0"><circle r="17.7"/><text>0</text></g><g class="q v0"><circle r="17.7"/><text>0</text></g><g class="r v1"><circle r="17.7"/><text>1</text></g><g class="s v4"><circle r="17.7"/><text>4</text></g><g class="t v10"><circle r="17.7"/><text>10</text></g>
</g>
<!-- 2000 -->
<g class="mp" transform="translate(950 877.8)"><use href="#pl"/><text class="yr" x="133.3" y="188.3">2000</text>
<g class="a v1"><circle r="17.7"/><text>1</text></g><g class="b v1"><circle r="17.7"/><text>1</text></g><g class="c v5"><circle r="17.7"/><text>5</text></g><g class="d v2"><circle r="17.7"/><text>2</text></g><g class="e v4"><circle r="17.7"/><text>4</text></g><g class="f v5"><circle r="17.7"/><text>5</text></g><g class="g v5"><circle r="17.7"/><text>5</text></g><g class="h v2"><circle r="17.7"/><text>2</text></g><g class="i v3"><circle r="17.7"/><text>3</text></g><g class="j v5"><circle r="17.7"/><text>5</text></g><g class="k v2"><circle r="17.7"/><text>2</text></g><g class="l v2"><circle r="17.7"/><text>2</text></g><g class="m v6"><circle r="17.7"/><text>6</text></g><g class="n v5"><circle r="17.7"/><text>5</text></g><g class="o v5"><circle r="17.7"/><text>5</text></g><g class="p v6"><circle r="17.7"/><text>6</text></g><g class="q v5"><circle r="17.7"/><text>5</text></g><g class="r v5"><circle r="17.7"/><text>5</text></g><g class="s v10"><circle r="17.7"/><text>10</text></g><g class="t v12"><circle r="17.7"/><text>12</text></g>
</g>
<!-- 1999 -->
<g class="mp" transform="translate(1187.5 877.8)"><use href="#pl"/><text class="yr" x="133.3" y="188.3">1999</text>
<g class="a v0"><circle r="17.7"/><text>0</text></g><g class="b v2"><circle r="17.7"/><text>2</text></g><g class="c v5"><circle r="17.7"/><text>5</text></g><g class="d v1"><circle r="17.7"/><text>1</text></g><g class="e v4"><circle r="17.7"/><text>4</text></g><g class="f v5"><circle r="17.7"/><text>5</text></g><g class="g v2"><circle r="17.7"/><text>2</text></g><g class="h v1"><circle r="17.7"/><text>1</text></g><g class="i v2"><circle r="17.7"/><text>2</text></g><g class="j v3"><circle r="17.7"/><text>3</text></g><g class="k v1"><circle r="17.7"/><text>1</text></g><g class="l v2"><circle r="17.7"/><text>2</text></g><g class="m v2"><circle r="17.7"/><text>2</text></g><g class="n v2"><circle r="17.7"/><text>2</text></g><g class="o v2"><circle r="17.7"/><text>2</text></g><g class="p v2"><circle r="17.7"/><text>2</text></g><g class="q v2"><circle r="17.7"/><text>2</text></g><g class="r v2"><circle r="17.7"/><text>2</text></g><g class="s v4"><circle r="17.7"/><text>4</text></g><g class="t v3"><circle r="17.7"/><text>3</text></g>
</g>
<!-- 1998 -->
<g class="mp" transform="translate(1425 877.8)"><use href="#pl"/><text class="yr" x="133.3" y="188.3">1998</text>
<g class="a v0"><circle r="17.7"/><text>0</text></g><g class="b v0"><circle r="17.7"/><text>0</text></g><g class="c v3"><circle r="17.7"/><text>3</text></g><g class="d v0"><circle r="17.7"/><text>0</text></g><g class="e v2"><circle r="17.7"/><text>2</text></g><g class="f v3"><circle r="17.7"/><text>3</text></g><g class="g v3"><circle r="17.7"/><text>3</text></g><g class="h v0"><circle r="17.7"/><text>0</text></g><g class="i v3"><circle r="17.7"/><text>3</text></g><g class="j v2"><circle r="17.7"/><text>2</text></g><g class="k v0"><circle r="17.7"/><text>0</text></g><g class="l v5"><circle r="17.7"/><text>5</text></g><g class="m v2"><circle r="17.7"/><text>2</text></g><g class="n v3"><circle r="17.7"/><text>3</text></g><g class="o v5"><circle r="17.7"/><text>5</text></g><g class="p v1"><circle r="17.7"/><text>1</text></g><g class="q v1"><circle r="17.7"/><text>1</text></g><g class="r v4"><circle r="17.7"/><text>4</text></g><g class="s v4"><circle r="17.7"/><text>4</text></g><g class="t v7"><circle r="17.7"/><text>7</text></g>
</g>

<!-- 1997 -->
<g class="mp" transform="translate(0 1170.4)"><use href="#pl"/><text class="yr" x="133.3" y="188.3">1997</text>
<g class="a v6"><circle r="17.7"/><text>6</text></g><g class="b v4"><circle r="17.7"/><text>4</text></g><g class="c v12"><circle r="17.7"/><text>12</text></g><g class="d v6"><circle r="17.7"/><text>6</text></g><g class="e v9"><circle r="17.7"/><text>9</text></g><g class="f v13"><circle r="17.7"/><text>13</text></g><g class="g v7"><circle r="17.7"/><text>7</text></g><g class="h v5"><circle r="17.7"/><text>5</text></g><g class="i v4"><circle r="17.7"/><text>4</text></g><g class="j v9"><circle r="17.7"/><text>9</text></g><g class="k v4"><circle r="17.7"/><text>4</text></g><g class="l v10"><circle r="17.7"/><text>10</text></g><g class="m v13"><circle r="17.7"/><text>13</text></g><g class="n v9"><circle r="17.7"/><text>9</text></g><g class="o v14"><circle r="17.7"/><text>14</text></g><g class="p v10"><circle r="17.7"/><text>10</text></g><g class="q v10"><circle r="17.7"/><text>10</text></g><g class="r v16"><circle r="17.7"/><text>16</text></g><g class="s v12"><circle r="17.7"/><text>12</text></g><g class="t v11"><circle r="17.7"/><text>11</text></g>
</g>
<!-- 1996 -->
<g class="mp" transform="translate(237.5 1170.4)"><use href="#pl"/><text class="yr" x="133.3" y="188.3">1996</text>
<g class="a v5"><circle r="17.7"/><text>5</text></g><g class="b v6"><circle r="17.7"/><text>6</text></g><g class="c v16"><circle r="17.7"/><text>16</text></g><g class="d v9"><circle r="17.7"/><text>9</text></g><g class="e v12"><circle r="17.7"/><text>12</text></g><g class="f v17"><circle r="17.7"/><text>17</text></g><g class="g v12"><circle r="17.7"/><text>12</text></g><g class="h v9"><circle r="17.7"/><text>9</text></g><g class="i v10"><circle r="17.7"/><text>10</text></g><g class="j v13"><circle r="17.7"/><text>13</text></g><g class="k v11"><circle r="17.7"/><text>11</text></g><g class="l v10"><circle r="17.7"/><text>10</text></g><g class="m v14"><circle r="17.7"/><text>14</text></g><g class="n v9"><circle r="17.7"/><text>9</text></g><g class="o v11"><circle r="17.7"/><text>11</text></g><g class="p v9"><circle r="17.7"/><text>9</text></g><g class="q v9"><circle r="17.7"/><text>9</text></g><g class="r v12"><circle r="17.7"/><text>12</text></g><g class="s v13"><circle r="17.7"/><text>13</text></g><g class="t v16"><circle r="17.7"/><text>16</text></g>
</g>
<!-- 1995 -->
<g class="mp" transform="translate(475 1170.4)"><use href="#pl"/><text class="yr" x="133.3" y="188.3">1995</text>
<g class="a v2"><circle r="17.7"/><text>2</text></g><g class="b v2"><circle r="17.7"/><text>2</text></g><g class="c v8"><circle r="17.7"/><text>8</text></g><g class="d v1"><circle r="17.7"/><text>1</text></g><g class="e v5"><circle r="17.7"/><text>5</text></g><g class="f v5"><circle r="17.7"/><text>5</text></g><g class="g v3"><circle r="17.7"/><text>3</text></g><g class="h v1"><circle r="17.7"/><text>1</text></g><g class="i v0"><circle r="17.7"/><text>0</text></g><g class="j v4"><circle r="17.7"/><text>4</text></g><g class="k v1"><circle r="17.7"/><text>1</text></g><g class="l v2"><circle r="17.7"/><text>2</text></g><g class="m v5"><circle r="17.7"/><text>5</text></g><g class="n v3"><circle r="17.7"/><text>3</text></g><g class="o v4"><circle r="17.7"/><text>4</text></g><g class="p v1"><circle r="17.7"/><text>1</text></g><g class="q v3"><circle r="17.7"/><text>3</text></g><g class="r v5"><circle r="17.7"/><text>5</text></g><g class="s v6"><circle r="17.7"/><text>6</text></g><g class="t v11"><circle r="17.7"/><text>11</text></g>
</g>

<!-- MAX -->
<g class="mp" transform="translate(923 1185)"><use href="#pl"/><text class="yr" x="133.3" y="191.7">MAX</text>
<g class="a v9"><circle r="17.7"/><text>9</text></g><g class="b v10"><circle r="17.7"/><text>10</text></g><g class="c v20"><circle r="17.7"/><text>20</text></g><g class="d v10"><circle r="17.7"/><text>10</text></g><g class="e v17"><circle r="17.7"/><text>17</text></g><g class="f v19"><circle r="17.7"/><text>19</text></g><g class="g v16"><circle r="17.7"/><text>16</text></g><g class="h v10"><circle r="17.7"/><text>10</text></g><g class="i v11"><circle r="17.7"/><text>11</text></g><g class="j v19"><circle r="17.7"/><text>19</text></g><g class="k v11"><circle r="17.7"/><text>11</text></g><g class="l v19"><circle r="17.7"/><text>19</text></g><g class="m v18"><circle r="17.7"/><text>18</text></g><g class="n v14"><circle r="17.7"/><text>14</text></g><g class="o v19"><circle r="17.7"/><text>19</text></g><g class="p v15"><circle r="17.7"/><text>15</text></g><g class="q v18"><circle r="17.7"/><text>18</text></g><g class="r v20"><circle r="17.7"/><text>20</text></g><g class="s v17"><circle r="17.7"/><text>17</text></g><g class="t v19"><circle r="17.7"/><text>19</text></g>
</g>
<!-- MIN -->
<g class="mp" transform="translate(1161.5 1185)"><use href="#pl"/><text class="yr" x="133.3" y="191.7">MIN</text>
<g class="a v0"><circle r="17.7"/><text>0</text></g><g class="b v0"><circle r="17.7"/><text>0</text></g><g class="c v0"><circle r="17.7"/><text>0</text></g><g class="d v0"><circle r="17.7"/><text>0</text></g><g class="e v0"><circle r="17.7"/><text>0</text></g><g class="f v0"><circle r="17.7"/><text>0</text></g><g class="g v0"><circle r="17.7"/><text>0</text></g><g class="h v0"><circle r="17.7"/><text>0</text></g><g class="i v0"><circle r="17.7"/><text>0</text></g><g class="j v0"><circle r="17.7"/><text>0</text></g><g class="k v0"><circle r="17.7"/><text>0</text></g><g class="l v0"><circle r="17.7"/><text>0</text></g><g class="m v0"><circle r="17.7"/><text>0</text></g><g class="n v0"><circle r="17.7"/><text>0</text></g><g class="o v0"><circle r="17.7"/><text>0</text></g><g class="p v0"><circle r="17.7"/><text>0</text></g><g class="q v0"><circle r="17.7"/><text>0</text></g><g class="r v0"><circle r="17.7"/><text>0</text></g><g class="s v0"><circle r="17.7"/><text>0</text></g><g class="t v0"><circle r="17.7"/><text>0</text></g>
</g>
<!-- ŚREDNIA -->
<g class="mp" transform="translate(1398 1185)"><use href="#pl"/><text class="yr" x="133.3" y="191.7">ŚREDNIA</text>
<g class="a s2"><circle r="17.7"/><text>2.1</text></g><g class="b s2"><circle r="17.7"/><text>2.8</text></g><g class="c s7"><circle r="17.7"/><text>7.4</text></g><g class="d s2"><circle r="17.7"/><text>2.3</text></g><g class="e s5"><circle r="17.7"/><text>5.6</text></g><g class="f s7"><circle r="17.7"/><text>7.1</text></g><g class="g s3"><circle r="17.7"/><text>4.4</text></g><g class="h s2"><circle r="17.7"/><text>2.4</text></g><g class="i s3"><circle r="17.7"/><text>3.1</text></g><g class="j s5"><circle r="17.7"/><text>5.1</text></g><g class="k s2"><circle r="17.7"/><text>2.7</text></g><g class="l s3"><circle r="17.7"/><text>4.8</text></g><g class="m s5"><circle r="17.7"/><text>5.8</text></g><g class="n s3"><circle r="17.7"/><text>4</text></g><g class="o s6"><circle r="17.7"/><text>6</text></g><g class="p s3"><circle r="17.7"/><text>3.9</text></g><g class="q s3"><circle r="17.7"/><text>4.5</text></g><g class="r s5"><circle r="17.7"/><text>5.5</text></g><g class="s s5"><circle r="17.7"/><text>5.6</text></g><g class="t s8"><circle r="17.7"/><text>8.8</text></g>
</g>

<text x="35" y="1663" font-family="Liberation Sans, Arial, sans-serif" font-size="23" fill="#2b2f3e" textLength="990">Dane dla miast wojewódzkich (bez Bydgoszczy) oraz dla Koszalina, Suwałk i Zakopanego</text>
<text x="1645" y="1663" text-anchor="end" font-family="Liberation Sans, Arial, sans-serif" font-size="23" fill="#2b2f3e" textLength="404">Wizualizacja danych: dr Alan Mandal</text>
</svg>
</body></html>
